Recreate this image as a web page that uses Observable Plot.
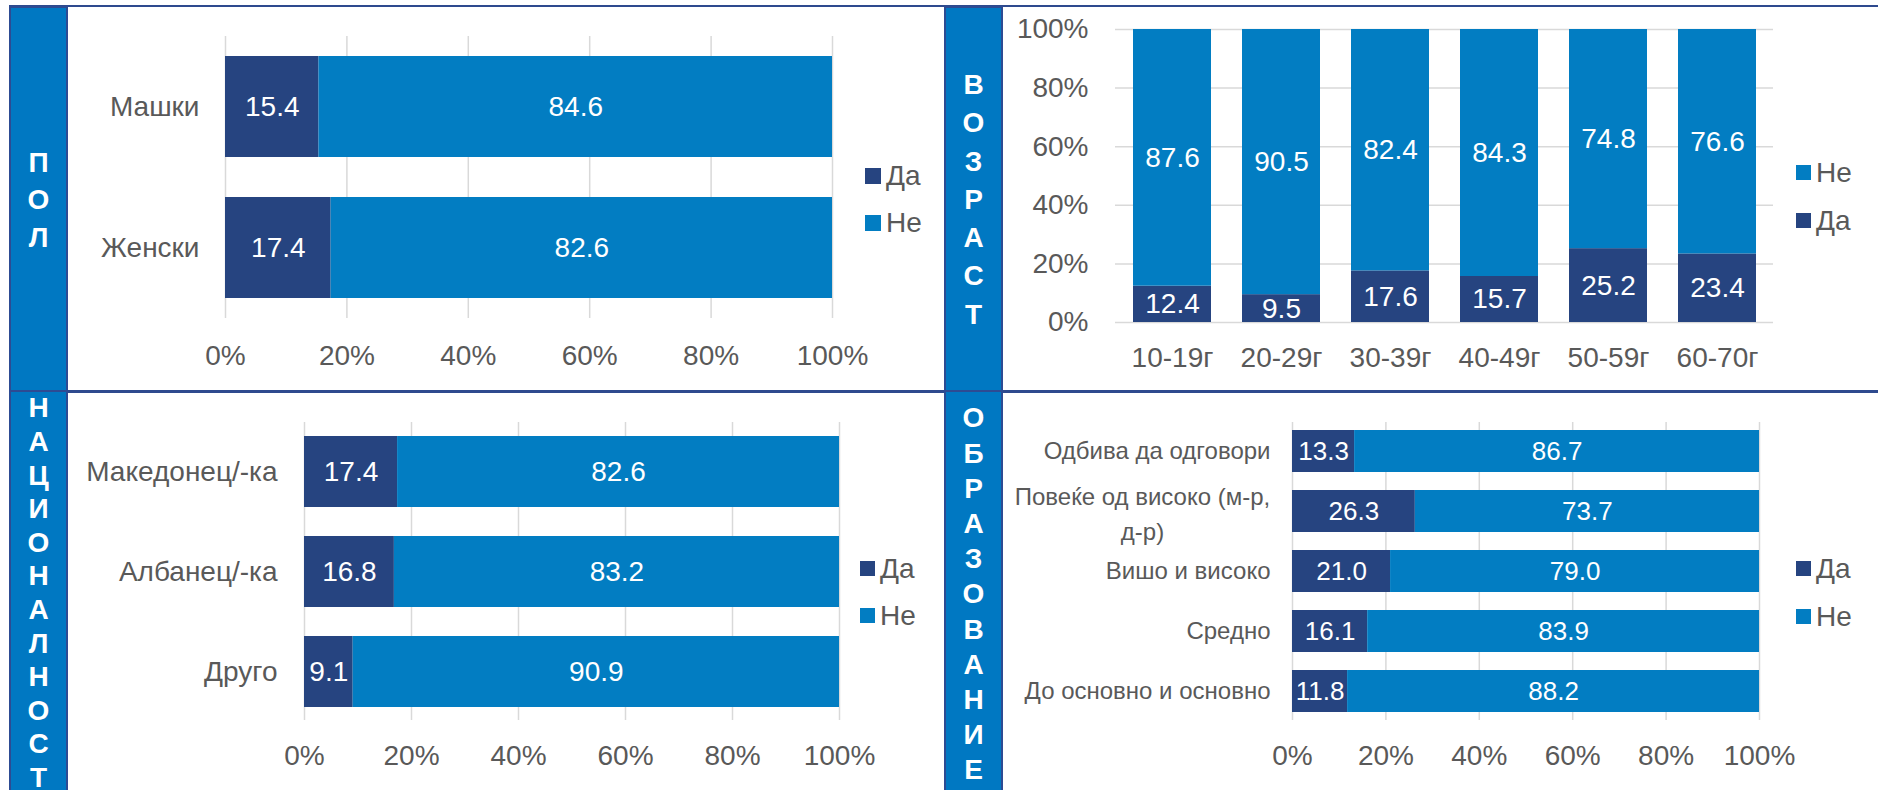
<!DOCTYPE html>
<html><head><meta charset="utf-8">
<script src="https://cdn.jsdelivr.net/npm/d3@7"></script>
<script src="https://cdn.jsdelivr.net/npm/@observablehq/plot@0.6"></script>
<style>
body{margin:0;width:1878px;height:790px;position:relative;overflow:hidden;background:#fff;font-family:"Liberation Sans",Arial,sans-serif;}
.hline{position:absolute;background:#2E4A8E;}
.col{position:absolute;background:#0078C2;border:2px solid #2D4B93;box-sizing:border-box;}
.letters{position:absolute;color:#fff;font-weight:bold;font-size:28px;text-align:center;}
.sw{position:absolute;}
.lt{position:absolute;font-size:28px;color:#595959;line-height:1;white-space:nowrap;}
svg.chart{position:absolute;overflow:visible;}
</style></head>
<body>
<script>
// ---- data ----
const series = ["Да", "Не"];
const colors = ["#264480", "#027DC2"];
const pctTicks = [0, 20, 40, 60, 80, 100];

const genderCats = ["Машки", "Женски"];
const genderDa = [15.4, 17.4];
const genderNe = [84.6, 82.6];

const ageCats = ["10-19г", "20-29г", "30-39г", "40-49г", "50-59г", "60-70г"];
const ageDa = [12.4, 9.5, 17.6, 15.7, 25.2, 23.4];
const ageNe = [87.6, 90.5, 82.4, 84.3, 74.8, 76.6];

const natCats = ["Македонец/-ка", "Албанец/-ка", "Друго"];
const natDa = [17.4, 16.8, 9.1];
const natNe = [82.6, 83.2, 90.9];

const eduCats = ["Одбива да одговори", "Повеќе од високо (м-р, д-р)", "Вишо и високо", "Средно", "До основно и основно"];
const eduDa = [13.3, 26.3, 21.0, 16.1, 11.8];
const eduNe = [86.7, 73.7, 79.0, 83.9, 88.2];
const eduWrapped = "Повеќе од високо (м-р,\nд-р)";

const panelTitles = ["ПОЛ", "ВОЗРАСТ", "НАЦИОНАЛНОСТ", "ОБРАЗОВАНИЕ"];

// ---- helpers ----
const FONT = "Liberation Sans, Arial, sans-serif";
const GRAY = "#595959";
const pct = d => d + "%";
function rowsOf(cats, da, ne) {
  return cats.flatMap((c, i) => [
    {cat: c, series: series[0], value: da[i]},
    {cat: c, series: series[1], value: ne[i]}
  ]);
}
function place(el, left, top) {
  el.classList.add("chart");
  el.style.left = left + "px";
  el.style.top = top + "px";
  document.body.appendChild(el);
}
function div(cls, css, html) {
  const d = document.createElement("div");
  d.className = cls;
  Object.assign(d.style, css);
  if (html !== undefined) d.innerHTML = html;
  document.body.appendChild(d);
  return d;
}

// ---- border lines ----
div("hline", {left: "9px", top: "5px", width: "1869px", height: "2px"});
div("hline", {left: "9px", top: "390px", width: "1869px", height: "3px"});

// ---- horizontal stacked bar chart ----
function hbar(o) {
  const rows = rowsOf(o.cats, o.da, o.ne);
  const marks = [
    Plot.gridX(pctTicks, {stroke: "#D9D9D9", strokeOpacity: 1, strokeWidth: 1.5}),
    Plot.barX(rows, Plot.stackX({x: "value", y: "cat", fill: "series"})),
    Plot.text(rows, Plot.stackX({x: "value", y: "cat", z: "series", text: d => d.value.toFixed(1), fill: "white", fontSize: o.lfs})),
    Plot.axisX({ticks: pctTicks, tickSize: 0, tickPadding: o.xtp, tickFormat: pct, fontSize: 28, fill: GRAY, label: null}),
    Plot.axisY({tickSize: 0, tickPadding: o.ytp, fontSize: o.cfs, fill: GRAY, label: null,
      tickFormat: d => (o.wrapCat && d === o.wrapCat) ? "" : d})
  ];
  if (o.wrapCat) {
    marks.push(Plot.text([o.wrapCat], {y: d => d, text: [o.wrapText], frameAnchor: "left", textAnchor: "middle",
      dx: o.wrapDx, lineHeight: 1.43, fontSize: o.cfs, fill: GRAY}));
  }
  const svg = Plot.plot({
    width: o.width, height: o.height,
    marginTop: o.mt, marginBottom: o.mb, marginLeft: o.ml, marginRight: o.mr,
    style: {fontFamily: FONT, fontSize: "28px", color: GRAY, background: "transparent", overflow: "visible"},
    x: {domain: [0, 100], label: null},
    y: {domain: o.cats, paddingInner: o.pi, paddingOuter: o.po, label: null},
    color: {domain: series, range: colors},
    marks
  });
  place(svg, o.left, o.top);
}

// Panel 1: ПОЛ
hbar({cats: genderCats, da: genderDa, ne: genderNe, left: 67, top: 8, width: 879, height: 384,
  mt: 28, mb: 74, ml: 158, mr: 114, pi: 0.284, po: 0.142, lfs: 28, cfs: 28, xtp: 27, ytp: 26});

// Panel 3: НАЦИОНАЛНОСТ
hbar({cats: natCats, da: natDa, ne: natNe, left: 67, top: 393, width: 877, height: 397,
  mt: 29, mb: 70, ml: 237, mr: 105, pi: 0.29, po: 0.135, lfs: 28, cfs: 28, xtp: 25, ytp: 27});

// Panel 4: ОБРАЗОВАНИЕ
hbar({cats: eduCats, da: eduDa, ne: eduNe, left: 1004, top: 393, width: 874, height: 397,
  mt: 29, mb: 70, ml: 288, mr: 119, pi: 0.3, po: 0.133, lfs: 26, cfs: 24, xtp: 25, ytp: 22,
  wrapCat: eduCats[1], wrapText: eduWrapped, wrapDx: -150});

// Panel 2: ВОЗРАСТ (vertical)
{
  const rows = rowsOf(ageCats, ageDa, ageNe);
  const svg = Plot.plot({
    width: 874, height: 382, marginTop: 21, marginBottom: 68, marginLeft: 111, marginRight: 105,
    style: {fontFamily: FONT, fontSize: "28px", color: GRAY, background: "transparent", overflow: "visible"},
    x: {domain: ageCats, paddingInner: 0.285, paddingOuter: 0.16, label: null},
    y: {domain: [0, 100], label: null},
    color: {domain: series, range: colors},
    marks: [
      Plot.gridY(pctTicks, {stroke: "#D9D9D9", strokeOpacity: 1, strokeWidth: 1.5}),
      Plot.barY(rows, Plot.stackY({x: "cat", y: "value", fill: "series"})),
      Plot.text(rows, Plot.stackY({x: "cat", y: "value", z: "series", text: d => d.value.toFixed(1), fill: "white", fontSize: 28})),
      Plot.axisX({tickSize: 0, tickPadding: 25, fontSize: 28, fill: GRAY, label: null}),
      Plot.axisY({ticks: pctTicks, tickSize: 0, tickPadding: 27, tickFormat: pct, fontSize: 28, fill: GRAY, label: null})
    ]
  });
  place(svg, 1004, 8);
}

// ---- legends ----
function legend(x, ys, order, size) {
  order.forEach((s, i) => {
    const c = colors[series.indexOf(s)];
    div("sw", {left: x + "px", top: ys[i] + "px", width: size + "px", height: size + "px", background: c});
    div("lt", {left: (x + size + 5) + "px", top: (ys[i] + size / 2 - 14) + "px"}, s);
  });
}
legend(865, [168, 215], ["Да", "Не"], 16);
legend(1796, [165, 213], ["Не", "Да"], 15);
legend(860, [561, 608], ["Да", "Не"], 15);
legend(1796, [561, 609], ["Да", "Не"], 15);

// ---- side title columns ----
div("col", {left: "9px", top: "6px", width: "59px", height: "386px"});
div("col", {left: "944px", top: "6px", width: "59px", height: "386px"});
div("col", {left: "9px", top: "390px", width: "59px", height: "410px"});
div("col", {left: "944px", top: "390px", width: "59px", height: "410px"});

function letters(text, left, center, lh) {
  const chars = Array.from(text);
  div("letters", {left: left + "px", width: "59px", top: (center - chars.length * lh / 2) + "px", lineHeight: lh + "px"},
    chars.join("<br>"));
}
letters(panelTitles[0], 9, 200, 37.5);
letters(panelTitles[1], 944, 200, 38.3);
letters(panelTitles[2], 9, 593, 33.6);
letters(panelTitles[3], 944, 594, 35.2);
</script>
</body></html>
